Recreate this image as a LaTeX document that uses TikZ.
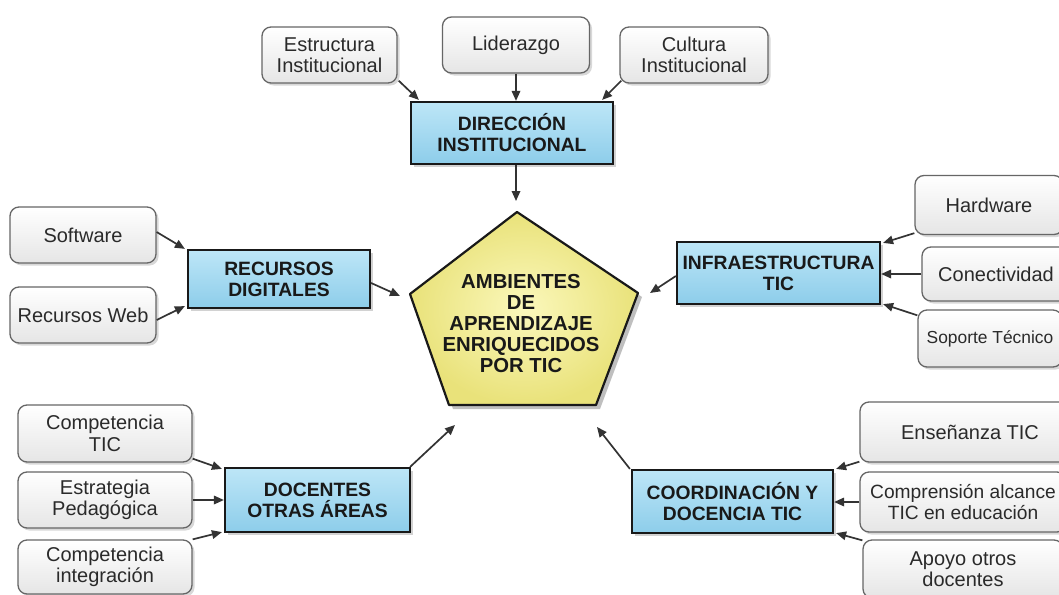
\documentclass[tikz,border=0pt]{standalone}
\usepackage{fontspec}
\setmainfont{Liberation Sans}
\usetikzlibrary{shadows,arrows.meta,calc}
\definecolor{blueA}{HTML}{BDE6F7}
\definecolor{blueB}{HTML}{8DCDEA}
\definecolor{yelA}{HTML}{FBF8BC}
\definecolor{yelB}{HTML}{E9E27A}
\definecolor{txt}{HTML}{2A2A2A}
\begin{document}
\begin{tikzpicture}[x=1pt,y=-1pt,
  wbox/.style={draw=black!60, line width=1.3pt, rounded corners=9pt, top color=white, bottom color=black!10,
    drop shadow={shadow xshift=2.5pt,shadow yshift=-2.5pt,opacity=0.3}, align=center,
    font=\fontsize{20}{21.5}\selectfont, text=txt, inner sep=0pt},
  bbox/.style={draw=black!90, line width=2.2pt, top color=blueA, bottom color=blueB,
    drop shadow={shadow xshift=3pt,shadow yshift=-3pt,opacity=0.35}, align=center,
    font=\bfseries\fontsize{19.3}{21}\selectfont, text=black!90, inner sep=0pt},
  arr/.style={-{Triangle[length=10pt,width=8.5pt]}, line width=1.7pt, draw=black!80},
  ptext/.style={align=center, font=\bfseries\fontsize{20.3}{21}\selectfont, text=black!90}]
\useasboundingbox (0,0) rectangle (1059,594);
\clip (0,0) rectangle (1059,594);
\fill[white] (0,0) rectangle (1059,594);

% central pentagon
\coordinate (pA) at (517,212);
\coordinate (pB) at (638,293);
\coordinate (pC) at (596,405);
\coordinate (pD) at (449,405);
\coordinate (pE) at (410,294);
\fill[black, opacity=0.25] ($(pA)+(4,4)$) -- ($(pB)+(4,4)$) -- ($(pC)+(4,4)$) -- ($(pD)+(4,4)$) -- ($(pE)+(4,4)$) -- cycle;
\shade[inner color=yelA, outer color=yelB, draw=black!90, line width=2.2pt, line join=round]
  (pA) -- (pB) -- (pC) -- (pD) -- (pE) -- cycle;
\node[ptext] (amb) at (521,324) {AMBIENTES\\DE\\APRENDIZAJE\\ENRIQUECIDOS\\POR TIC};

% top group
\node[wbox, minimum width=135, minimum height=56] (estr) at (329.5,55) {Estructura\\Institucional};
\node[wbox, minimum width=147, minimum height=56] (lid) at (516,45) {Liderazgo};
\node[wbox, minimum width=148, minimum height=56] (cult) at (694,55) {Cultura\\Institucional};
\node[bbox, minimum width=202, minimum height=62] (dir) at (512,133) {DIRECCIÓN\\INSTITUCIONAL};

% left group
\node[wbox, minimum width=146, minimum height=56] (soft) at (83,235) {Software};
\node[wbox, minimum width=146, minimum height=56] (rweb) at (83,315) {Recursos Web};
\node[bbox, minimum width=182, minimum height=58] (rec) at (279,279) {RECURSOS\\DIGITALES};

% right group
\node[bbox, minimum width=203, minimum height=62] (infra) at (778.5,273) {INFRAESTRUCTURA\\TIC};
\node[wbox, minimum width=148, minimum height=59] (hard) at (989,205) {Hardware};
\node[wbox, minimum width=148, minimum height=54] (conec) at (996,274) {Conectividad};
\node[wbox, minimum width=144, minimum height=57, font=\fontsize{17.4}{19}\selectfont] (sop) at (990,338.5) {Soporte Técnico};

% bottom-left group
\node[wbox, minimum width=174, minimum height=57] (ctic) at (105,433.5) {Competencia\\TIC};
\node[wbox, minimum width=174, minimum height=56] (estra) at (105,500) {Estrategia\\Pedagógica};
\node[wbox, minimum width=174, minimum height=54] (cint) at (105,567) {Competencia\\integración};
\node[bbox, minimum width=185, minimum height=64] (doc) at (317.5,500) {DOCENTES\\OTRAS ÁREAS};

% bottom-right group
\node[bbox, minimum width=201, minimum height=63] (coord) at (732.5,501.5) {COORDINACIÓN Y\\DOCENCIA TIC};
\node[wbox, minimum width=220, minimum height=60] (ens) at (970,432) {Enseñanza TIC};
\node[wbox, minimum width=206, minimum height=60, font=\fontsize{19.2}{21}\selectfont] (comp) at (963,502) {Comprensión alcance\\TIC en educación};
\node[wbox, minimum width=200, minimum height=58] (apoyo) at (963,569) {Apoyo otros\\docentes};

% arrow targets at the pentagon
\coordinate (tTop) at (516,201);
\coordinate (tLeft) at (400,296);
\coordinate (tRight) at (650,293);
\coordinate (tBL) at (455,425);
\coordinate (tBR) at (597,427);

% connectors
\draw[arr] ($(estr.south east)+(1,-3)$) -- ($(dir.north west)+(9,-1)$);
\draw[arr] (lid.south) -- (lid.south |- dir.north);
\draw[arr] ($(cult.south west)+(2,-3)$) -- ($(dir.north east)+(-12,-1)$);
\draw[arr] (dir.south -| tTop) -- (tTop);

\draw[arr] ($(soft.east)+(0,-3)$) -- ($(rec.north west)+(-2,0)$);
\draw[arr] ($(rweb.east)+(0,5)$) -- ($(rec.south west)+(-2,-3)$);
\draw[arr] ($(rec.east)+(0,4)$) -- (tLeft);

\draw[arr] ($(hard.south west)+(0,-2)$) -- ($(infra.north east)+(2,2)$);
\draw[arr] (conec.west) -- (conec.west -| infra.east);
\draw[arr] ($(sop.north west)+(0,6)$) -- ($(infra.south east)+(2,-1)$);
\draw[arr] ($(infra.west)+(0,3)$) -- (tRight);

\draw[arr] ($(ctic.south east)+(0,-4)$) -- ($(doc.north west)+(-2,2)$);
\draw[arr] (estra.east) -- (estra.east -| doc.west);
\draw[arr] (cint.north east) -- ($(doc.south west)+(-2,-1)$);
\draw[arr] ($(doc.north east)+(-1,0)$) -- (tBL);

\draw[arr] ($(ens.south west)+(0,-1)$) -- ($(coord.north east)+(2,0)$);
\draw[arr] (comp.west) -- (comp.west -| coord.east);
\draw[arr] ($(apoyo.north west)+(0,1)$) -- ($(coord.south east)+(2,-1)$);
\draw[arr] ($(coord.north west)+(-1,0)$) -- (tBR);
\end{tikzpicture}
\end{document}
